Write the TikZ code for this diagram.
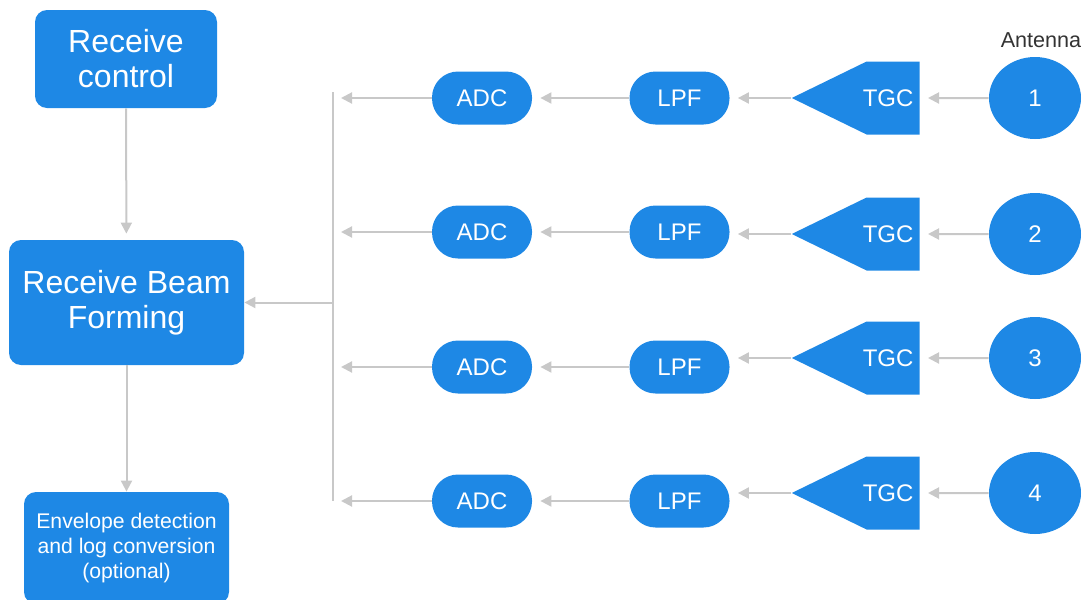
\documentclass[tikz,border=0pt]{standalone}
\usepackage{fontspec}
\setmainfont{Liberation Sans}
\usetikzlibrary{arrows.meta,shapes.symbols,shapes.geometric}

\definecolor{beamblue}{RGB}{30,136,229}
\definecolor{wiregray}{RGB}{200,200,200}
\definecolor{labelgray}{RGB}{51,51,51}

\begin{document}
\begin{tikzpicture}[x=0.5pt, y=-0.5pt,
   box/.style={rectangle, rounded corners=6pt, fill=beamblue, text=white, align=center, inner sep=0pt},
   big/.style={font=\fontsize{16}{17.5}\selectfont},
   pill/.style={rectangle, rounded corners=13pt, fill=beamblue, text=white, minimum width=50pt, minimum height=26.5pt, font=\fontsize{12}{14}\selectfont},
   amp/.style={signal, signal to=west, signal pointer angle=52, fill=beamblue, text=white, inner sep=0pt, text width=26.5pt, align=center, minimum height=36.5pt, font=\fontsize{12}{14}\selectfont, execute at begin node={\hspace*{-5pt}}},
   ant/.style={ellipse, fill=beamblue, text=white, inner sep=0pt, minimum width=46pt, minimum height=41pt, font=\fontsize{12}{14}\selectfont},
   wire/.style={draw=wiregray, line width=1pt},
   >={Triangle[length=5.5pt,width=5.5pt]}]
   \useasboundingbox (0,0) rectangle (1089,600);
   % left column
   \node (ctrl) at (126,59) [box, big, minimum width=91pt, minimum height=49pt] {Receive\\control};
   \node (beam) at (126.5,302.5) [box, big, minimum width=117.5pt, minimum height=62.5pt] {Receive Beam\\Forming};
   \node (env) at (126.5,548) [box, minimum width=102.5pt, minimum height=56pt, font=\fontsize{10.6}{12.5}\selectfont] {Envelope detection\\and log conversion\\(optional)};
   \draw[wire,->,shorten >=3pt] (ctrl) -- (beam);
   \draw[wire,->] (beam) -- (env);
   % bus
   \coordinate (bus1) at (333,98);
   \coordinate (bus2) at (333,232);
   \coordinate (bus3) at (333,367);
   \coordinate (bus4) at (333,501);
   \coordinate (busmid) at (333,302.5);
   \draw[wire] ([yshift=3pt]bus1) -- (bus4);
   \draw[wire,->] (busmid) -- (beam);
   % channels
   \node (antlbl) at (1041,40) [text=labelgray, font=\fontsize{10.8}{12}\selectfont] {Antenna};
   \node (adc1) at (482,98) [pill] {ADC};
   \node (lpf1) at (679.5,98) [pill] {LPF};
   \node (tgc1) at (920,98) [amp, anchor=east] {TGC};
   \node (ant1) at (1035,98) [ant] {1};
   \node (adc2) at (482,232) [pill] {ADC};
   \node (lpf2) at (679.5,232) [pill] {LPF};
   \node (tgc2) at (920,234) [amp, anchor=east] {TGC};
   \node (ant2) at (1035,234) [ant] {2};
   \node (adc3) at (482,367) [pill] {ADC};
   \node (lpf3) at (679.5,367) [pill] {LPF};
   \node (tgc3) at (920,358) [amp, anchor=east] {TGC};
   \node (ant3) at (1035,358) [ant] {3};
   \node (adc4) at (482,501) [pill] {ADC};
   \node (lpf4) at (679.5,501) [pill] {LPF};
   \node (tgc4) at (920,493) [amp, anchor=east] {TGC};
   \node (ant4) at (1035,493) [ant] {4};
   \draw[wire,->,shorten >=4pt] (ant1) -- (tgc1);
   \draw[wire,->,shorten >=4pt] (ant2) -- (tgc2);
   \draw[wire,->,shorten >=4pt] (ant3) -- (tgc3);
   \draw[wire,->,shorten >=4pt] (ant4) -- (tgc4);
   \draw[wire,->,shorten >=4pt] (tgc1.west) -- (tgc1.west -| lpf1.east);
   \draw[wire,->,shorten >=4pt] (tgc2.west) -- (tgc2.west -| lpf2.east);
   \draw[wire,->,shorten >=4pt] (tgc3.west) -- (tgc3.west -| lpf3.east);
   \draw[wire,->,shorten >=4pt] (tgc4.west) -- (tgc4.west -| lpf4.east);
   \draw[wire,->,shorten >=4pt] (lpf1) -- (adc1);
   \draw[wire,->,shorten >=4pt] (lpf2) -- (adc2);
   \draw[wire,->,shorten >=4pt] (lpf3) -- (adc3);
   \draw[wire,->,shorten >=4pt] (lpf4) -- (adc4);
   \draw[wire,->,shorten >=4pt] (adc1) -- (bus1);
   \draw[wire,->,shorten >=4pt] (adc2) -- (bus2);
   \draw[wire,->,shorten >=4pt] (adc3) -- (bus3);
   \draw[wire,->,shorten >=4pt] (adc4) -- (bus4);
\end{tikzpicture}
\end{document}
